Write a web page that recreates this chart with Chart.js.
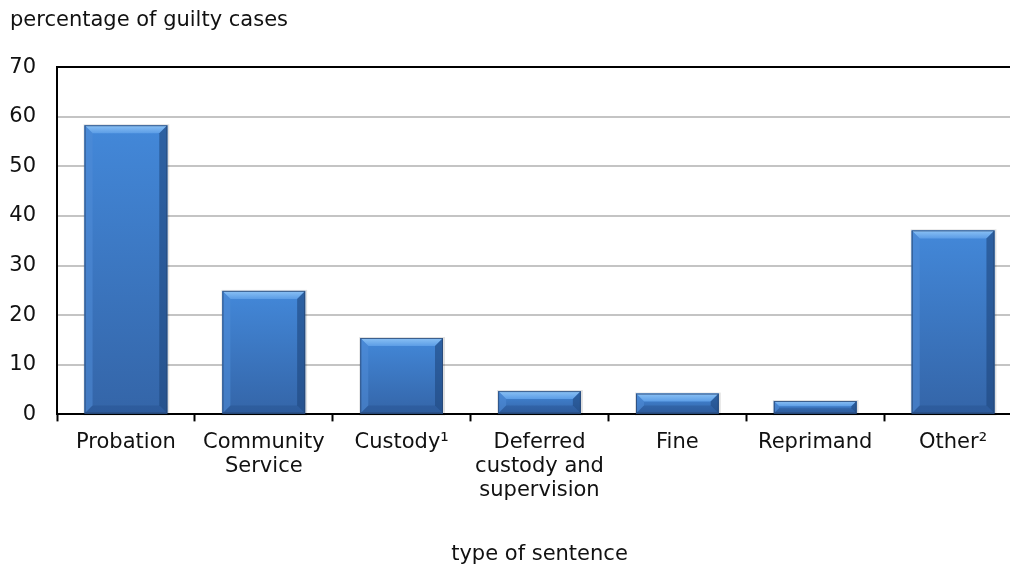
<!DOCTYPE html>
<html>
<head>
<meta charset="utf-8">
<script src="https://cdn.jsdelivr.net/npm/chart.js@4.4.1/dist/chart.umd.min.js"></script>
<style>
  html, body { margin: 0; padding: 0; background: #fff; overflow: hidden; }
  #wrap { width: 1022px; height: 567px; }
</style>
</head>
<body>
<div id="wrap"><canvas id="sentenceChart" width="1022" height="567"></canvas></div>
<script>
// Sentences by type, percentage of guilty cases

const categories = ['Probation', ['Community', 'Service'], 'Custody\u00B9', ['Deferred', 'custody and', 'supervision'], 'Fine', 'Reprimand', 'Other\u00B2'];
const percentages = [58.3, 24.9, 15.4, 4.7, 4.2, 2.7, 37.1];
const yTicks = { min: 0, max: 70, step: 10 };

const FONT = 'DejaVu Sans, Verdana, sans-serif';
const FONT_SIZE = 21;

// bevelled bar look, drawn over each bar from the bar element's own geometry
const bevelPlugin = {
  id: 'bevel',
  afterDatasetsDraw(chart) {
    const ctx = chart.ctx;
    chart.getDatasetMeta(0).data.forEach(bar => {
      const { x, y, width, base } = bar.getProps(['x', 'y', 'width', 'base'], true);
      const left = x - width / 2;
      const right = x + width / 2;
      const h = base - y;
      const b = Math.min(8, h / 2.4);

      ctx.save();
      // soft shadow
      ctx.fillStyle = 'rgba(0,0,0,0.12)';
      ctx.fillRect(left - 1, y - 1, width + 3, h + 3);

      // body gradient
      const body = ctx.createLinearGradient(0, y, 0, base);
      body.addColorStop(0, '#4388d9');
      body.addColorStop(1, '#3465a8');
      ctx.fillStyle = body;
      ctx.fillRect(left, y, width, h);

      // top edge
      const top = ctx.createLinearGradient(0, y, 0, y + b);
      top.addColorStop(0, '#8cc2f5');
      top.addColorStop(1, '#5c9de6');
      ctx.fillStyle = top;
      ctx.beginPath();
      ctx.moveTo(left, y); ctx.lineTo(right, y);
      ctx.lineTo(right - b, y + b); ctx.lineTo(left + b, y + b);
      ctx.closePath(); ctx.fill();
      // left edge
      ctx.fillStyle = 'rgba(80,140,215,0.55)';
      ctx.beginPath();
      ctx.moveTo(left, y); ctx.lineTo(left + b, y + b);
      ctx.lineTo(left + b, base - b); ctx.lineTo(left, base);
      ctx.closePath(); ctx.fill();
      // right edge
      ctx.fillStyle = 'rgba(30,70,125,0.6)';
      ctx.beginPath();
      ctx.moveTo(right, y); ctx.lineTo(right - b, y + b);
      ctx.lineTo(right - b, base - b); ctx.lineTo(right, base);
      ctx.closePath(); ctx.fill();
      // bottom edge
      ctx.fillStyle = 'rgba(35,75,135,0.35)';
      ctx.beginPath();
      ctx.moveTo(left, base); ctx.lineTo(left + b, base - b);
      ctx.lineTo(right - b, base - b); ctx.lineTo(right, base);
      ctx.closePath(); ctx.fill();
      // outline
      ctx.strokeStyle = 'rgba(40,70,115,0.8)';
      ctx.lineWidth = 1;
      ctx.strokeRect(left + 0.5, y + 0.5, width - 1, h - 1);
      ctx.restore();
    });
  }
};

const ctx = document.getElementById('sentenceChart');

new Chart(ctx, {
  type: 'bar',
  data: {
    labels: categories,
    datasets: [{
      data: percentages,
      backgroundColor: '#3b7bc5',
      borderWidth: 0,
      categoryPercentage: 1,
      barPercentage: 0.6
    }]
  },
  options: {
    responsive: false,
    animation: false,
    devicePixelRatio: 1,
    layout: { padding: { left: 10, right: 0, top: 0, bottom: 0 } },
    plugins: {
      legend: { display: false },
      tooltip: { enabled: false },
      title: {
        display: true,
        text: 'percentage of guilty cases',
        align: 'start',
        color: '#111',
        font: { family: FONT, size: FONT_SIZE, weight: 'normal' },
        padding: { top: 8, bottom: 34 }
      }
    },
    scales: {
      x: {
        afterFit: s => { s.paddingLeft = 0; s.paddingRight = 0; },
        grid: {
          drawOnChartArea: false,
          drawTicks: true,
          tickLength: 7,
          tickColor: '#000',
          tickWidth: 2
        },
        border: { color: '#000', width: 2 },
        ticks: {
          color: '#111',
          padding: 9,
          maxRotation: 0,
          autoSkip: false,
          font: { family: FONT, size: FONT_SIZE, lineHeight: 1.15 }
        },
        title: {
          display: true,
          text: 'type of sentence',
          color: '#111',
          font: { family: FONT, size: FONT_SIZE, lineHeight: 1.15 },
          padding: { top: 31, bottom: 0 }
        }
      },
      y: {
        min: yTicks.min,
        max: yTicks.max,
        afterFit: s => { s.width = 47; },
        grid: {
          drawTicks: false,
          color: c => (c.tick && c.tick.value === yTicks.max ? '#000' : '#c4c4c4'),
          lineWidth: 2
        },
        border: { color: '#000', width: 2 },
        ticks: {
          stepSize: yTicks.step,
          color: '#111',
          padding: 21,
          font: { family: FONT, size: FONT_SIZE }
        }
      }
    }
  },
  plugins: [bevelPlugin]
});
</script>
</body>
</html>
